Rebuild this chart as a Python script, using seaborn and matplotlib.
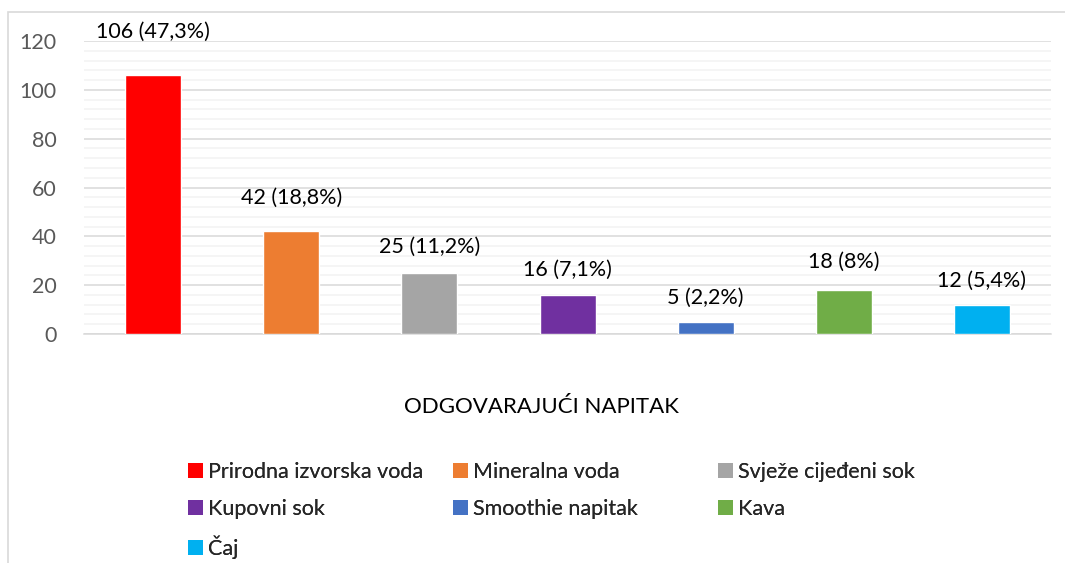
import matplotlib.pyplot as plt
import seaborn as sns
import pandas as pd
from matplotlib.patches import Rectangle, Patch

kategorije = ['Prirodna izvorska voda', 'Mineralna voda', 'Svježe cijeđeni sok',
              'Kupovni sok', 'Smoothie napitak', 'Kava', 'Čaj']
broj = [106, 42, 25, 16, 5, 18, 12]
postotak = ['47,3', '18,8', '11,2', '7,1', '2,2', '8', '5,4']
boje = ['#FF0000', '#ED7D31', '#A5A5A5', '#7030A0', '#4472C4', '#70AD47', '#00B0F0']

df = pd.DataFrame({'Napitak': kategorije, 'Broj': broj})

sns.set_style('white')
plt.rcParams['font.family'] = ['Lato', 'DejaVu Sans']

fig = plt.figure(figsize=(10.65, 5.63), dpi=100)
ax = fig.add_axes([0.0789, 0.4067, 0.908, 0.5204])

# okvir grafikona
fig.patches.append(Rectangle((8 / 1065, -0.1), 1.2, 1.1 - 12 / 563,
                             transform=fig.transFigure, fill=False,
                             edgecolor='#D9D9D9', linewidth=1.2, zorder=0))

sns.barplot(data=df, x='Napitak', y='Broj', hue='Napitak', palette=boje,
            width=0.405, legend=False, saturation=1, ax=ax, zorder=3)

ax.set_ylim(0, 120)
ax.set_yticks(range(0, 121, 20))
ax.set_yticks(range(0, 121, 4), minor=True)
ax.grid(axis='y', which='major', color='#D9D9D9', linewidth=1.1, zorder=0)
ax.grid(axis='y', which='minor', color='#F2F2F2', linewidth=1.1, zorder=0)
ax.set_axisbelow(True)
for s in ['top', 'right', 'left']:
    ax.spines[s].set_visible(False)
ax.spines['bottom'].set_color('#D9D9D9')
ax.spines['bottom'].set_linewidth(1.1)
ax.tick_params(axis='y', which='both', length=0, labelsize=15.5, labelcolor='#595959', pad=20)
ax.set_xticks([])
ax.set_xlabel('')
ax.set_ylabel('')

pomaci = [31, 24, 19, 18, 17, 20, 17]
for i, (b, p) in enumerate(zip(broj, postotak)):
    ax.annotate(f'{b} ({p}%)', (i, b), xytext=(0, pomaci[i]), textcoords='offset points',
                ha='center', va='center', fontsize=15.5, color='#000000')

fig.text(541 / 1065, 1 - 407 / 563, 'ODGOVARAJUĆI NAPITAK', ha='center', va='center',
         fontsize=16, color='#000000')

# legenda u tri stupca
stupci = [[0, 3, 6], [1, 4], [2, 5]]
x_pos = [188 / 1065, 453 / 1065, 718 / 1065]
for st, xp in zip(stupci, x_pos):
    handles = [Patch(facecolor=boje[i], edgecolor='none') for i in st]
    leg = fig.legend(handles, [kategorije[i] for i in st], loc='upper left',
                     bbox_to_anchor=(xp, 1 - 462 / 563), frameon=False, fontsize=15.5,
                     handlelength=0.7, handleheight=0.7, handletextpad=0.25,
                     labelspacing=0.78, borderaxespad=0, borderpad=0)
    fig.add_artist(leg)

fig.savefig('out.png', dpi=100)
